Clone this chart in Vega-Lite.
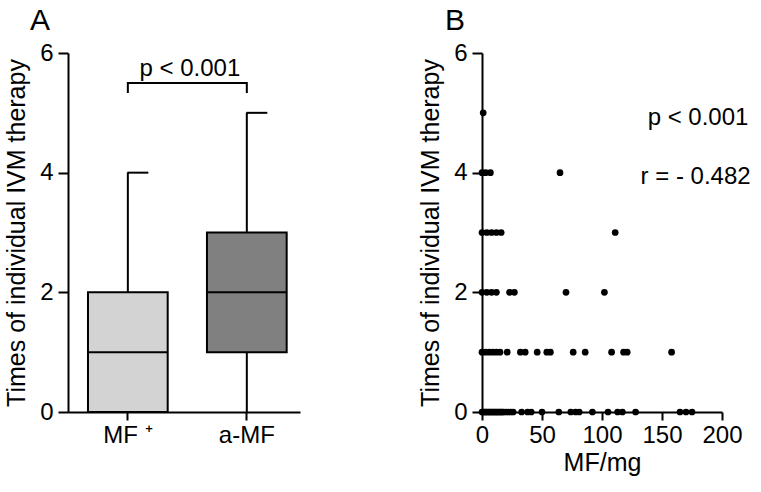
{
  "$schema": "https://vega.github.io/schema/vega-lite/v6.json",
  "background": "white",
  "padding": {"left": 4, "top": 6, "right": 5, "bottom": 5},
  "spacing": 118,
  "config": {
    "font": "Liberation Sans",
    "view": {"stroke": null},
    "axis": {
      "grid": false,
      "domainColor": "black",
      "domainWidth": 2,
      "tickColor": "black",
      "tickWidth": 2,
      "tickSize": 10,
      "labelColor": "black",
      "labelFontSize": 24,
      "labelFont": "Liberation Sans",
      "labelOverlap": false,
      "labelFlush": false,
      "titleColor": "black",
      "titleFontSize": 25,
      "titleFontWeight": "normal",
      "titleFont": "Liberation Sans",
      "labelPadding": 5
    },
    "title": {"fontSize": 30, "fontWeight": "normal", "color": "black", "anchor": "start", "font": "Liberation Sans", "frame": "group"}
  },
  "hconcat": [
    {
      "width": 232,
      "height": 359,
      "title": {"text": "A", "dx": -38, "offset": 5},
      "layer": [
        {
          "data": {"values": [
            {"group": "MF+", "min": 0, "q1": 0, "median": 1, "q3": 2, "max": 4},
            {"group": "a-MF", "min": 0, "q1": 1, "median": 2, "q3": 3, "max": 5}
          ]},
          "layer": [
            {
              "mark": {"type": "rule", "color": "black", "strokeWidth": 2},
              "encoding": {
                "x": {"field": "group", "type": "nominal"},
                "y": {"field": "min", "type": "quantitative"},
                "y2": {"field": "max"}
              }
            },
            {
              "mark": {"type": "bar", "width": {"band": 1}, "stroke": "black", "strokeWidth": 2},
              "encoding": {
                "x": {"field": "group", "type": "nominal"},
                "y": {"field": "q1", "type": "quantitative"},
                "y2": {"field": "q3"},
                "fill": {"field": "group", "type": "nominal", "scale": {"domain": ["MF+", "a-MF"], "range": ["#d3d3d3", "#808080"]}, "legend": null}
              }
            },
            {
              "mark": {"type": "tick", "color": "black", "thickness": 2, "size": 80, "opacity": 1},
              "encoding": {
                "x": {"field": "group", "type": "nominal"},
                "y": {"field": "median", "type": "quantitative"}
              }
            },
            {
              "mark": {"type": "tick", "color": "black", "thickness": 2, "size": 21, "xOffset": 10, "opacity": 1},
              "encoding": {
                "x": {"field": "group", "type": "nominal"},
                "y": {"field": "max", "type": "quantitative"}
              }
            }
          ]
        },
        {
          "data": {"values": [
            {"group": "MF+", "v": 5.33, "k": 1},
            {"group": "MF+", "v": 5.5, "k": 2},
            {"group": "a-MF", "v": 5.5, "k": 3},
            {"group": "a-MF", "v": 5.33, "k": 4}
          ]},
          "mark": {"type": "line", "color": "black", "strokeWidth": 2},
          "encoding": {
            "x": {"field": "group", "type": "nominal"},
            "y": {"field": "v", "type": "quantitative"},
            "order": {"field": "k"}
          }
        },
        {
          "data": {"values": [{"group": "MF+", "v": 5.74, "label": "p < 0.001"}]},
          "mark": {"type": "text", "fontSize": 24, "dx": 62, "align": "center", "baseline": "middle", "color": "black"},
          "encoding": {
            "x": {"field": "group", "type": "nominal"},
            "y": {"field": "v", "type": "quantitative"},
            "text": {"field": "label"}
          }
        }
      ],
      "encoding": {
        "x": {
          "field": "group", "type": "nominal",
          "sort": ["MF+", "a-MF"],
          "scale": {"domain": ["MF+", "a-MF"], "paddingInner": 0.33, "paddingOuter": 0.14, "align": 0.6},
          "axis": {"title": null, "labelAngle": 0, "tickSize": 8, "labelPadding": 3, "labelExpr": "datum.value == 'MF+' ? 'MF \u207a' : datum.value"}
        },
        "y": {
          "type": "quantitative",
          "scale": {"domain": [0, 6], "nice": false},
          "axis": {"values": [0, 2, 4, 6], "title": "Times of individual IVM therapy", "titlePadding": 10}
        }
      }
    },
    {
      "width": 240,
      "height": 359,
      "title": {"text": "B", "dx": -37, "offset": 5},
      "layer": [
        {
          "data": {"values": [
            {"mf": 0, "t": 0}, {"mf": 1, "t": 0}, {"mf": 2, "t": 0}, {"mf": 3, "t": 0}, {"mf": 4, "t": 0},
            {"mf": 5, "t": 0}, {"mf": 6, "t": 0}, {"mf": 7, "t": 0}, {"mf": 8, "t": 0}, {"mf": 9, "t": 0},
            {"mf": 10, "t": 0}, {"mf": 11, "t": 0}, {"mf": 12, "t": 0}, {"mf": 13, "t": 0}, {"mf": 14, "t": 0},
            {"mf": 15, "t": 0}, {"mf": 16, "t": 0}, {"mf": 17, "t": 0}, {"mf": 18, "t": 0}, {"mf": 20, "t": 0},
            {"mf": 22, "t": 0}, {"mf": 24, "t": 0}, {"mf": 26, "t": 0}, {"mf": 33, "t": 0}, {"mf": 38, "t": 0},
            {"mf": 41, "t": 0}, {"mf": 50, "t": 0}, {"mf": 64, "t": 0}, {"mf": 74, "t": 0}, {"mf": 78, "t": 0},
            {"mf": 81, "t": 0}, {"mf": 92, "t": 0}, {"mf": 105, "t": 0}, {"mf": 113, "t": 0}, {"mf": 117, "t": 0},
            {"mf": 128, "t": 0}, {"mf": 165, "t": 0}, {"mf": 170, "t": 0}, {"mf": 175, "t": 0},
            {"mf": 0, "t": 1}, {"mf": 3, "t": 1}, {"mf": 6, "t": 1}, {"mf": 9, "t": 1}, {"mf": 12, "t": 1},
            {"mf": 15, "t": 1}, {"mf": 21, "t": 1}, {"mf": 32, "t": 1}, {"mf": 36, "t": 1}, {"mf": 46, "t": 1},
            {"mf": 54, "t": 1}, {"mf": 57, "t": 1}, {"mf": 76, "t": 1}, {"mf": 86, "t": 1}, {"mf": 108, "t": 1},
            {"mf": 118, "t": 1}, {"mf": 121, "t": 1}, {"mf": 158, "t": 1},
            {"mf": 0, "t": 2}, {"mf": 4, "t": 2}, {"mf": 8, "t": 2}, {"mf": 12, "t": 2}, {"mf": 23, "t": 2},
            {"mf": 27, "t": 2}, {"mf": 70, "t": 2}, {"mf": 102, "t": 2},
            {"mf": 0, "t": 3}, {"mf": 4, "t": 3}, {"mf": 8, "t": 3}, {"mf": 12, "t": 3}, {"mf": 16, "t": 3},
            {"mf": 111, "t": 3},
            {"mf": 0, "t": 4}, {"mf": 3, "t": 4}, {"mf": 7, "t": 4}, {"mf": 65, "t": 4},
            {"mf": 1, "t": 5}
          ]},
          "mark": {"type": "circle", "color": "black", "size": 45, "opacity": 1},
          "encoding": {
            "x": {"field": "mf", "type": "quantitative"},
            "y": {"field": "t", "type": "quantitative"}
          }
        },
        {
          "data": {"values": [
            {"mf": 180, "t": 4.92, "label": "p < 0.001"},
            {"mf": 178, "t": 3.93, "label": "r = - 0.482"}
          ]},
          "mark": {"type": "text", "fontSize": 24, "align": "center", "baseline": "middle", "color": "black"},
          "encoding": {
            "x": {"field": "mf", "type": "quantitative"},
            "y": {"field": "t", "type": "quantitative"},
            "text": {"field": "label"}
          }
        }
      ],
      "encoding": {
        "x": {
          "type": "quantitative",
          "scale": {"domain": [0, 200], "nice": false},
          "axis": {"values": [0, 50, 100, 150, 200], "title": "MF/mg", "tickSize": 8, "labelPadding": 3, "titlePadding": 3}
        },
        "y": {
          "type": "quantitative",
          "scale": {"domain": [0, 6], "nice": false},
          "axis": {"values": [0, 2, 4, 6], "title": "Times of individual IVM therapy", "titlePadding": 10}
        }
      }
    }
  ]
}
